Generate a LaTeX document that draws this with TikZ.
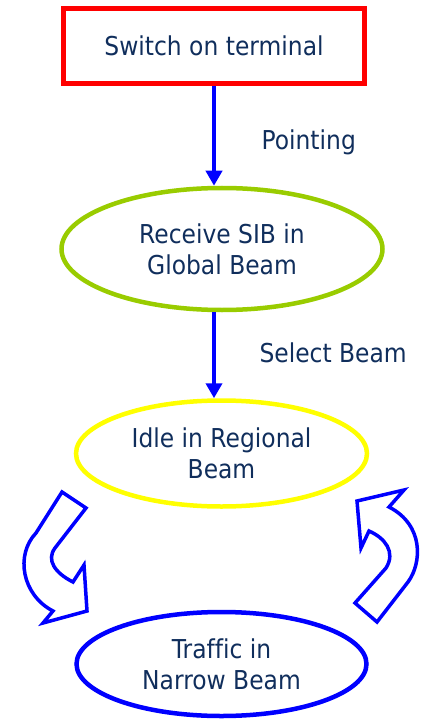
\documentclass[tikz,border=0pt]{standalone}
\usepackage{fontspec}
\setmainfont{DejaVu Sans}[FakeStretch=0.9, Ligatures=NoCommon]
\definecolor{beamblue}{RGB}{0, 0, 255}
\definecolor{beamred}{RGB}{255, 0, 0}
\definecolor{beamgreen}{RGB}{153, 204, 0}
\definecolor{beamyellow}{RGB}{255, 255, 0}
\definecolor{beamtext}{RGB}{16, 46, 92}
\usetikzlibrary{shapes.geometric,arrows.meta,positioning}

\begin{document}
\begin{tikzpicture}[x=1pt, y=-1pt, font=\fontsize{26}{31}\selectfont, text=beamtext,
    state/.style={ellipse, line width=4.5pt, inner sep=0pt, align=center},
    flow/.style={-{Triangle[length=15pt,width=16pt]}, line width=4pt, beamblue},
    loopbox/.style={draw=beamblue, line width=3.5pt, line join=miter, fill=white}]
    \useasboundingbox (0,0) rectangle (429,719);
    \node[draw=beamred, line width=5pt, minimum width=301pt, minimum height=75pt] (switch) at (214,45.8) {Switch on terminal};
    \node[state, draw=beamgreen, minimum width=321pt, minimum height=122pt] (sib) at (222,249) {Receive SIB in\\Global Beam};
    \node[state, draw=beamyellow, minimum width=291pt, minimum height=106pt] (idle) at (221.5,453.5) {Idle in Regional\\Beam};
    \node[state, draw=beamblue, minimum width=290pt, minimum height=104pt] (traffic) at (221.5,664) {Traffic in\\Narrow Beam};
    \node[anchor=base west] (pointing) at (258,150) {Pointing};
    \node[anchor=base west] (select) at (256,362) {Select Beam};
    \draw[flow] (switch.south) -- (switch.south |- sib.north);
    \draw[flow] ([xshift=-8pt]sib.south) -- ([xshift=-8pt]sib.south |- idle.north);
    % turning arrows between idle and traffic
    \draw[loopbox] (62,492) -- (86,508) -- (55,548) .. controls (46,560) and (55,573) .. (73,582) -- (84,565) -- (87,611) -- (43,623) -- (53,611) .. controls (22,595) and (15,555) .. (36,533) -- cycle;
    \draw[loopbox] (404,490) -- (357,501) -- (361,548) -- (369,531) .. controls (385,538) and (396,552) .. (386,568) -- (355,603) -- (377,622) -- (408,582) .. controls (422,563) and (424,525) .. (389,507) -- cycle;
\end{tikzpicture}
\end{document}
